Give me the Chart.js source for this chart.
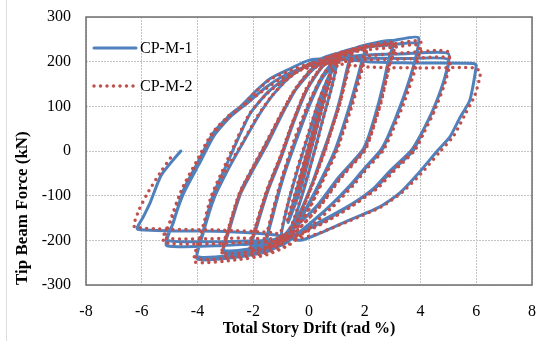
<!DOCTYPE html>
<html>
<head>
<meta charset="utf-8">
<script src="https://cdn.jsdelivr.net/npm/chart.js@4.4.1/dist/chart.umd.min.js"></script>
<style>
html,body{margin:0;padding:0;background:#fff;}
#wrap{position:relative;width:540px;height:341px;}
</style>
</head>
<body>
<div id="wrap"><canvas id="c"></canvas></div>
<script>
const seriesNames = ["CP-M-1", "CP-M-2"];
const xTicks = [-8, -6, -4, -2, 0, 2, 4, 6, 8];
const yTicks = [-300, -200, -100, 0, 100, 200, 300];

// CP-M-1 (solid blue): drift (rad %) and force (kN), read along the loops
const drift1 = [0,0.25,0.5, 0.3,-0.1,-0.5, -0.25,0.15,0.5,0.75, 0.5,0.1,-0.3,-0.75,
 -0.5,-0.1,0.3,0.7,1, 0.8,0.45,0.2,-0.2,-0.6,-1,
 -0.8,-0.4,0,0.4,0.9,1.5, 1.35,1.05,0.7,0.55,0.1,-0.4,-0.8,-1.5,
 -1.3,-0.9,-0.45,0,0.5,1.0,1.5, 1.35,1.02,0.68,0.52,0.08,-0.42,-0.85,-1.5,
 -1.3,-0.9,-0.45,0,0.5,1.1,2, 1.85,1.5,1.15,0.95,0.5,0,-0.5,-1.0,-2.05,
 -1.85,-1.45,-1.0,-0.55,-0.05,0.5,1.2,2, 1.85,1.5,1.12,0.92,0.45,-0.05,-0.55,-1.05,-2.05,
 -1.85,-1.45,-1.0,-0.6,-0.1,0.5,1.2,2,3, 2.83,2.54,2.19,1.95,1.1,0.4,-0.32,-0.9,-1.6,-3.05,
 -2.85,-2.45,-1.9,-1.5,-0.9,-0.4,0.2,1,2,3, 2.82,2.5,2.15,1.9,1.05,0.35,-0.35,-0.95,-1.7,-3.05,
 -2.85,-2.45,-1.9,-1.55,-1.0,-0.5,0.1,0.87,2.07,3,3.92,
 3.75,3.37,2.9,2.6,2.07,1.58,0.86,0.03,-0.7,-1.5,-2.5,-4.0,
 -3.8,-3.4,-2.85,-2.4,-1.8,-1.3,-0.7,0,0.8,2,3,3.9,
 3.7,3.3,2.85,2.55,2.0,1.5,0.8,0,-0.8,-1.6,-2.5,-4.0,
 -3.8,-3.45,-2.95,-2.6,-2.1,-1.5,-0.9,-0.2,0.7,2,3.5,5,
 4.85,4.45,4.05,3.73,3.0,2.43,1.58,0.64,-0.32,-1,-2,-5.1,
 -4.9,-4.5,-3.95,-3.4,-2.8,-2.2,-1.6,-1.0,-0.3,0.6,1.8,3.5,5,
 4.8,4.4,3.95,3.65,2.9,2.3,1.4,0.5,-0.4,-1.2,-2.5,-5.1,
 -4.87,-4.5,-4.0,-3.44,-2.83,-2.47,-1.86,-1.4,-0.79,0.04,1,2.1,4,5.9,6,
 5.77,5.41,5.05,4.6,3.87,3.26,2.54,1.47,0.39,-0.32,-1.2,-3,-6.15,
 -5.95,-5.7,-5.3,-4.6];
const force1 = [0,55,110, 60,-20,-105, -50,40,115,165, 105,10,-85,-160,
 -100,-10,80,160,200, 140,60,0,-90,-165,-195,
 -130,-40,40,120,190,222, 180,100,30,0,-75,-150,-190,-205,
 -145,-55,25,100,165,200,215, 175,95,28,0,-78,-150,-188,-200,
 -140,-50,30,105,170,215,235, 190,110,40,0,-60,-120,-170,-200,-215,
 -165,-85,-15,65,140,190,215,228, 185,105,35,0,-62,-122,-172,-200,-210,
 -160,-80,-10,60,135,190,220,237,247, 197,114,40,0,-58,-117,-160,-195,-218,-228,
 -175,-95,-30,15,90,145,190,218,233,240, 190,108,35,0,-60,-118,-162,-195,-215,-222,
 -170,-90,-25,15,80,135,180,215,237,247,254,
 190,114,40,0,-35,-72,-117,-162,-200,-225,-237,-242,
 -185,-105,-35,15,80,125,165,195,215,232,238,240,
 180,105,35,0,-38,-75,-120,-165,-205,-225,-232,-236,
 -180,-100,-30,20,85,130,160,188,205,215,218,218,
 160,92,40,0,-43,-80,-117,-150,-181,-200,-208,-212,
 -165,-95,-30,35,78,108,140,165,185,200,207,207,205,
 150,85,30,0,-45,-85,-125,-158,-185,-198,-202,-200,
 -161,-87,-27,40,81,99,137,162,181,204,207,200,197,196,192,
 114,74,31,0,-54,-94,-125,-154,-184,-200,-188,-180,-175,
 -148,-116,-54,0];

// CP-M-2 (dotted red)
const drift2 = [0,0.2,0.4, 0.15,-0.15,-0.4, -0.15,0.2,0.55,0.8, 0.55,0.15,-0.3,-0.8,
 -0.55,-0.1,0.35,0.75,1.05, 0.85,0.5,0.25,-0.2,-0.65,-1.05,
 -0.85,-0.45,0,0.45,0.95,1.55, 1.4,1.1,0.75,0.58,0.12,-0.4,-0.85,-1.55,
 -1.35,-0.95,-0.5,0,0.5,1.05,1.55, 1.4,1.07,0.72,0.55,0.1,-0.42,-0.88,-1.55,
 -1.35,-0.95,-0.5,0,0.55,1.15,2.05, 1.9,1.55,1.2,1.0,0.55,0.05,-0.5,-1.05,-2.1,
 -1.9,-1.5,-1.05,-0.6,-0.1,0.5,1.2,2.05, 1.9,1.55,1.17,0.97,0.5,0,-0.55,-1.1,-2.1,
 -1.9,-1.5,-1.05,-0.65,-0.15,0.45,1.2,2.05,3.05, 2.88,2.6,2.24,2.0,1.15,0.45,-0.3,-0.9,-1.6,-3.1,
 -2.9,-2.5,-1.95,-1.55,-0.95,-0.45,0.15,0.95,2.0,3.05, 2.87,2.55,2.2,1.95,1.1,0.4,-0.3,-0.95,-1.7,-3.1,
 -2.9,-2.5,-1.95,-1.6,-1.05,-0.55,0.05,0.85,2.05,3.0,4.0,
 3.82,3.42,2.95,2.65,2.1,1.6,0.9,0.05,-0.7,-1.5,-2.5,-4.1,
 -3.9,-3.5,-2.92,-2.45,-1.85,-1.35,-0.75,-0.05,0.75,2,3,3.95,
 3.75,3.35,2.9,2.6,2.05,1.55,0.85,0.05,-0.75,-1.6,-2.5,-4.05,
 -3.85,-3.5,-3.0,-2.65,-2.15,-1.55,-0.95,-0.25,0.65,2,3.5,5.0,
 4.9,4.5,4.1,3.78,3.05,2.48,1.62,0.7,-0.3,-1.0,-2.2,-5.2,
 -5.0,-4.6,-4.05,-3.5,-2.9,-2.3,-1.65,-1.05,-0.35,0.6,1.8,3.5,5.05,
 4.85,4.45,4.0,3.7,2.95,2.35,1.45,0.55,-0.35,-1.2,-2.5,-5.2,
 -4.95,-4.55,-4.05,-3.5,-2.9,-2.5,-1.9,-1.45,-0.85,0,1,2.1,4,5.95,6.15,
 5.95,5.6,5.2,4.72,4.0,3.35,2.6,1.5,0.4,-0.35,-1.3,-3.1,-6.25,
 -6.1,-5.75,-5.3,-4.85];
const force2 = [0,45,85, 30,-30,-85, -30,50,120,165, 110,20,-80,-160,
 -105,-5,90,165,205, 150,70,10,-85,-170,-200,
 -140,-45,45,130,195,225, 185,105,35,0,-75,-155,-195,-212,
 -150,-60,25,105,170,205,220, 178,98,30,0,-80,-155,-192,-208,
 -145,-55,30,110,175,215,232, 190,110,40,0,-60,-125,-178,-208,-222,
 -170,-90,-20,60,140,192,216,226, 182,102,32,0,-64,-128,-180,-207,-218,
 -165,-85,-15,55,130,188,220,236,242, 192,112,38,0,-60,-120,-170,-205,-226,-235,
 -180,-100,-32,12,88,143,188,217,232,236, 186,105,33,0,-62,-122,-170,-205,-222,-228,
 -175,-95,-28,12,78,133,178,213,233,240,245,
 185,110,38,0,-38,-76,-122,-170,-210,-232,-243,-248,
 -190,-108,-36,12,78,122,162,192,212,226,232,236,
 176,102,33,0,-40,-78,-124,-170,-210,-230,-238,-240,
 -182,-100,-30,18,82,126,156,184,200,212,220,222,
 158,90,38,0,-45,-82,-120,-155,-185,-200,-205,-205,
 -160,-92,-30,32,75,105,135,160,180,195,203,206,208,
 148,84,28,0,-47,-87,-127,-160,-188,-196,-195,-194,
 -155,-84,-25,38,78,95,133,158,176,195,195,188,186,186,176,
 125,82,35,0,-52,-92,-125,-155,-183,-195,-183,-177,-170,
 -132,-90,-45,-5];

const FONT = "'Liberation Serif','Times New Roman',serif";

function pts(xs, ys) { return xs.map((x, i) => ({x: x, y: ys[i]})); }

const frameAndLegend = {
  id: 'frameAndLegend',
  afterDraw(chart) {
    const ctx = chart.ctx, a = chart.chartArea;
    ctx.save();
    ctx.setLineDash([]);
    // plot frame
    ctx.strokeStyle = '#6f6f6f';
    ctx.lineWidth = 1.5;
    ctx.strokeRect(a.left, a.top, a.right - a.left, a.bottom - a.top);
    // faint outer left border of the figure
    ctx.strokeStyle = '#dcdcdc';
    ctx.lineWidth = 1;
    ctx.beginPath(); ctx.moveTo(6.5, 0); ctx.lineTo(6.5, 341); ctx.stroke();
    // legend
    const ds = chart.data.datasets;
    const rows = [48, 86];
    ds.forEach((d, i) => {
      const y = rows[i];
      ctx.strokeStyle = d.borderColor;
      ctx.lineWidth = d.borderWidth;
      ctx.lineCap = d.borderCapStyle || 'butt';
      ctx.setLineDash(d.borderDash || []);
      ctx.beginPath(); ctx.moveTo(94, y); ctx.lineTo(136, y); ctx.stroke();
      ctx.setLineDash([]);
      ctx.fillStyle = '#000';
      ctx.font = "16px " + FONT;
      ctx.textBaseline = 'middle';
      ctx.textAlign = 'left';
      ctx.fillText(d.label, 140, y + 1);
    });
    ctx.restore();
  }
};

new Chart(document.getElementById('c'), {
  type: 'scatter',
  data: {
    datasets: [
      {
        label: seriesNames[0],
        data: pts(drift1, force1),
        showLine: true,
        borderColor: '#4F81BD',
        backgroundColor: '#4F81BD',
        borderWidth: 3,
        borderJoinStyle: 'round',
        borderCapStyle: 'round',
        pointRadius: 0,
        tension: 0.2,
        order: 2
      },
      {
        label: seriesNames[1],
        data: pts(drift2, force2),
        showLine: true,
        borderColor: '#C0504D',
        backgroundColor: '#C0504D',
        borderWidth: 3.5,
        borderDash: [0, 6.5],
        borderCapStyle: 'round',
        pointRadius: 0,
        tension: 0.2,
        order: 1
      }
    ]
  },
  options: {
    responsive: true,
    maintainAspectRatio: false,
    animation: false,
    events: [],
    layout: { padding: { left: 0, right: 8, top: 17, bottom: 0 } },
    plugins: { legend: { display: false }, tooltip: { enabled: false } },
    scales: {
      x: {
        type: 'linear',
        min: -8, max: 8,
        afterBuildTicks(s) { s.ticks = xTicks.map(v => ({value: v})); },
        afterFit(s) { s.height = 56; s.paddingLeft = 0; s.paddingRight = 0; },
        grid: { color: '#c4c4c4', lineWidth: 1, drawTicks: false },
        border: { display: false, dash: [2, 1] },
        ticks: { color: '#000', font: { family: FONT, size: 16 }, padding: 17, maxRotation: 0 },
        title: { display: true, text: 'Total Story Drift (rad %)', color: '#000',
                 font: { family: FONT, size: 16, weight: 'bold' }, padding: { top: 0, bottom: 3 } }
      },
      y: {
        type: 'linear',
        min: -300, max: 300,
        afterBuildTicks(s) { s.ticks = yTicks.map(v => ({value: v})); },
        afterFit(s) { s.width = 86; s.paddingTop = 0; s.paddingBottom = 0; },
        grid: { color: '#c4c4c4', lineWidth: 1, drawTicks: false },
        border: { display: false, dash: [2, 1] },
        ticks: { color: '#000', font: { family: FONT, size: 16 }, padding: 15 },
        title: { display: true, text: 'Tip Beam Force (kN)', color: '#000', align: 'start',
                 font: { family: FONT, size: 17, weight: 'bold' }, padding: { top: 12, bottom: 0 } }
      }
    }
  },
  plugins: [frameAndLegend]
});
</script>
</body>
</html>
